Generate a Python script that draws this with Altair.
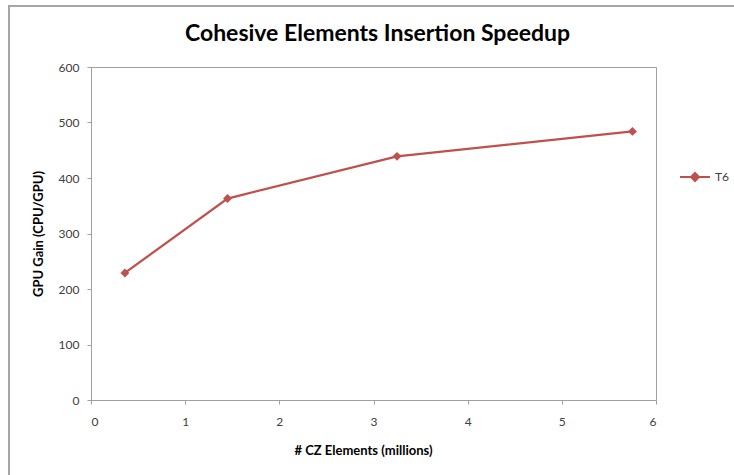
import altair as alt
import pandas as pd

series_name = ["T6", "T6", "T6", "T6"]
cz_elements = [0.36, 1.45, 3.25, 5.75]
gpu_gain = [229, 363, 439, 484]

df = pd.DataFrame({"x": cz_elements, "y": gpu_gain, "s": series_name})

RED = "#C0504D"
FONT = "Lato"

base = alt.Chart(df)

color = alt.Color(
    "s:N",
    scale=alt.Scale(range=[RED]),
    legend=alt.Legend(
        title=None,
        orient="none",
        legendX=588,
        legendY=94,
        symbolType="M-1,0H1M0,-0.27L0.27,0L0,0.27L-0.27,0Z",
        symbolSize=900,
        symbolStrokeWidth=2,
        symbolFillColor=RED,
        symbolStrokeColor=RED,
        labelFont=FONT,
        labelFontSize=12,
        labelColor="#404040",
        labelOffset=4,
    ),
)

xenc = alt.X(
    "x:Q",
    scale=alt.Scale(domain=[0, 6], nice=False),
    axis=alt.Axis(
        title="# CZ Elements (millions)",
        values=[0, 1, 2, 3, 4, 5, 6],
        format="d",
        grid=False,
        tickSize=4,
        labelPadding=12,
        titlePadding=17,
        titleX=272,
        titleAlign="center",
    ),
)
yenc = alt.Y(
    "y:Q",
    scale=alt.Scale(domain=[0, 600], nice=False),
    axis=alt.Axis(
        title="GPU Gain (CPU/GPU)",
        values=[0, 100, 200, 300, 400, 500, 600],
        format="d",
        grid=False,
        tickSize=4,
        labelPadding=8,
        titlePadding=13,
    ),
)

line = base.mark_line(strokeWidth=2.25, color=RED).encode(x=xenc, y=yenc, color=color)
pts = base.mark_point(shape="diamond", size=80, filled=True, opacity=1, color=RED).encode(
    x="x:Q", y="y:Q", color=alt.Color("s:N", legend=None, scale=alt.Scale(range=[RED]))
)

border_left = alt.Chart(pd.DataFrame({"a": [0]})).mark_rule(color="#A6A6A6", strokeWidth=2, clip=False).encode(
    x=alt.value(-82), y=alt.value(-62), y2=alt.value(420)
)
border_top = alt.Chart(pd.DataFrame({"a": [0]})).mark_rule(color="#A6A6A6", strokeWidth=2, clip=False).encode(
    x=alt.value(-83), x2=alt.value(660), y=alt.value(-61)
)

chart = (
    alt.layer(line, pts, border_left, border_top)
    .properties(
        width=565,
        height=333,
        autosize=alt.AutoSizeParams(type="none"),
        padding={"left": 91, "top": 67, "right": 78, "bottom": 75},
        title=alt.TitleParams(
            "Cohesive Elements Insertion Speedup",
            font=FONT,
            fontSize=23,
            fontWeight="bold",
            color="#000000",
            anchor="middle",
            offset=-42,
            dx=4,
        ),
        background="white",
    )
    .configure_view(stroke="#A0A0A0", strokeWidth=1)
    .configure_axis(
        domainColor="#A0A0A0",
        tickColor="#A0A0A0",
        labelFont=FONT,
        labelFontSize=12,
        labelColor="#404040",
        titleFont=FONT,
        titleFontSize=13,
        titleFontWeight="bold",
        titleColor="#000000",
    )
)

chart.save("out.html", embed_options={"renderer": "svg", "actions": False})
